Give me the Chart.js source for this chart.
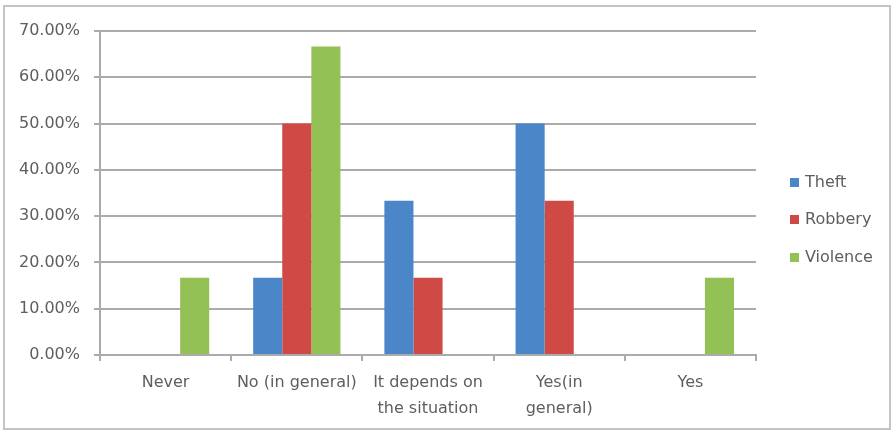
<!DOCTYPE html>
<html>
<head>
<meta charset="utf-8">
<script src="https://cdn.jsdelivr.net/npm/chart.js@4"></script>
<style>
  body { margin: 0; background: #fff; }
  #wrap { position: relative; width: 896px; height: 437px; }
  #frame { position: absolute; left: 3px; top: 5px; width: 888px; height: 425px; border: 2px solid #c4c4c4; box-sizing: border-box; pointer-events: none; }
</style>
</head>
<body>
<div id="wrap">
  <canvas id="chart" width="896" height="437"></canvas>
  <div id="frame"></div>
</div>
<script>
const categories = ["Never", "No (in general)", ["It depends on", "the situation"], ["Yes(in", "general)"], "Yes"];
const theft = [0, 16.67, 33.33, 50, 0];
const robbery = [0, 50, 16.67, 33.33, 0];
const violence = [16.67, 66.67, 0, 0, 16.67];
const yTicks = [0, 10, 20, 30, 40, 50, 60, 70];

const textColor = "#5e5e5e";
const fontFamily = "'DejaVu Sans', sans-serif";
const gridColor = "#ababab";

// legend drawn by hand on the right, Excel style
const sideLegend = {
    id: "sideLegend",
    afterDraw(chart) {
        const ctx = chart.ctx;
        const rows = [182, 219, 257];
        ctx.save();
        ctx.font = "16px " + fontFamily;
        ctx.textBaseline = "middle";
        chart.data.datasets.forEach((ds, i) => {
            ctx.fillStyle = ds.backgroundColor;
            ctx.fillRect(790, rows[i] - 4, 9, 9);
            ctx.fillStyle = textColor;
            ctx.fillText(ds.label, 805, rows[i] + 1);
        });
        ctx.restore();
    }
};

new Chart(document.getElementById("chart").getContext("2d"), {
    type: "bar",
    data: {
        labels: categories,
        datasets: [
            { label: "Theft", data: theft, backgroundColor: "#4a86c8" },
            { label: "Robbery", data: robbery, backgroundColor: "#cf4a45" },
            { label: "Violence", data: violence, backgroundColor: "#94c155" }
        ]
    },
    plugins: [sideLegend],
    options: {
        responsive: false,
        animation: false,
        layout: { padding: { top: 31, right: 140, left: 0, bottom: 0 } },
        plugins: {
            legend: { display: false },
            tooltip: { enabled: false }
        },
        datasets: { bar: { barPercentage: 1, categoryPercentage: 0.665 } },
        scales: {
            x: {
                grid: { display: true, drawOnChartArea: false, offset: true, color: gridColor, tickLength: 6, lineWidth: 2 },
                border: { color: gridColor, width: 2 },
                ticks: { color: textColor, font: { family: fontFamily, size: 16, lineHeight: 1.6 }, padding: 9, maxRotation: 0, autoSkip: false },
                afterFit(scale) { scale.height = 82; }
            },
            y: {
                min: 0,
                max: 70,
                afterBuildTicks(scale) { scale.ticks = yTicks.map(v => ({ value: v })); },
                grid: { color: gridColor, tickLength: 6, lineWidth: 2 },
                border: { color: gridColor, width: 2 },
                ticks: {
                    color: textColor,
                    font: { family: fontFamily, size: 16 },
                    padding: 14,
                    callback: v => v.toFixed(2) + "%"
                },
                afterFit(scale) { scale.width = 100; }
            }
        }
    }
});
</script>
</body>
</html>
